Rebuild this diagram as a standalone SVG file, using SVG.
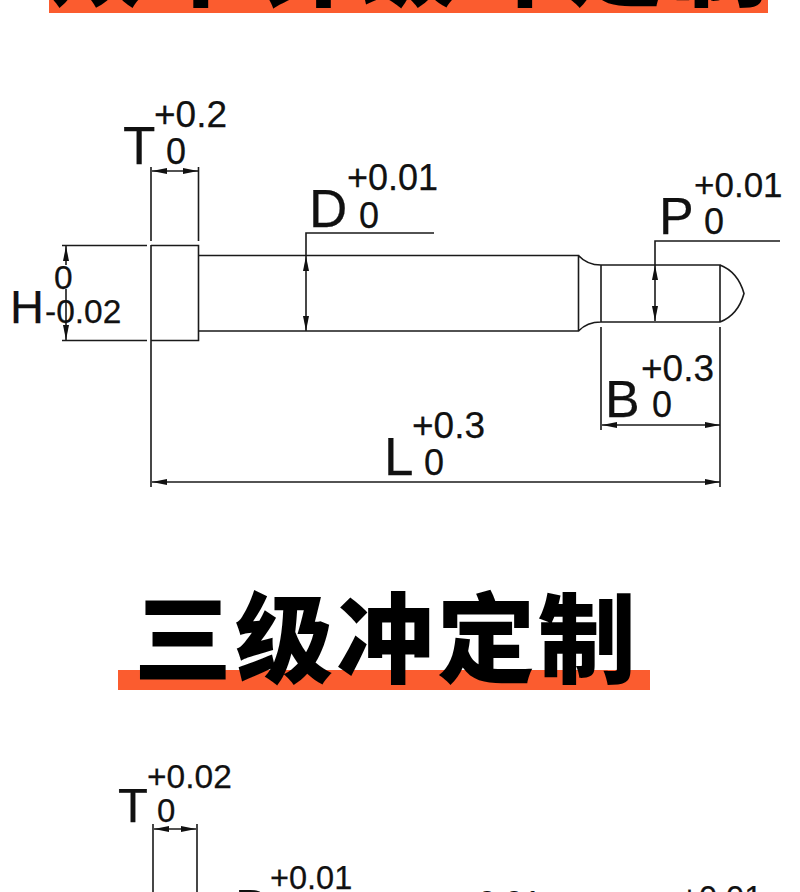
<svg xmlns="http://www.w3.org/2000/svg" width="800" height="892" viewBox="0 0 800 892">
<style>
.l{fill:none;stroke:#1a1a1a;stroke-width:1.6}
.t{font-family:"Liberation Sans",Arial,sans-serif;fill:#111;stroke:#111;stroke-width:.25}
.h{font-family:"Noto Sans CJK SC",sans-serif;font-weight:900;fill:#000;font-size:98px}
.b{fill:#fb5c2f}
</style>
<defs>
<marker id="a" viewBox="0 0 15 6" refX="15" refY="3" markerWidth="15" markerHeight="6" markerUnits="userSpaceOnUse" orient="auto-start-reverse"><path d="M15 3L0 0V6Z" fill="#111"/></marker>
</defs>
<rect width="800" height="892" fill="#fff"/>
<g id="banner-top"><rect class="b" x="49" y="0" width="719" height="13"/><text class="h" x="48" y="-2" textLength="720">双平针级冲定制</text></g>
<g id="banner-mid"><rect class="b" x="118" y="670" width="532" height="20"/><text class="h" x="134" y="675" letter-spacing="3">三级冲定制</text></g>
<g id="pin-1" class="l">
<path d="M151 245.500H198.500V340.500H151"/>
<path d="M198.500 255.500H578.500V331H198.500M578.500 255.500Q587 265 601 265H720V322H601Q587 322 578.500 331M578.500 255.500V331M601 265V322M720 265V322M720 265Q738 272 744 293.500Q738 315 720 322"/>
</g>
<g id="connectors" class="l">
<path d="M151 167V241M151 245V487M198.500 167V241M62 245.500H147M62 340.500H147"/>
<path d="M152 171H198" marker-start="url(#a)" marker-end="url(#a)"/>
<path d="M66 246V265" marker-start="url(#a)"/>
<path d="M66 289V340" marker-end="url(#a)"/>
<path d="M434 233H306V256"/>
<path d="M306 256V331" marker-start="url(#a)" marker-end="url(#a)"/>
<path d="M780 241H655V265"/>
<path d="M655 265V321" marker-start="url(#a)" marker-end="url(#a)"/>
<path d="M601 327V430M720 327V487"/>
<path d="M602 425H720" marker-start="url(#a)" marker-end="url(#a)"/>
<path d="M152 482H720" marker-start="url(#a)" marker-end="url(#a)"/>
<path d="M153 824V892M197 824V892"/>
<path d="M154 829H196" marker-start="url(#a)" marker-end="url(#a)"/>
</g>
<g id="label-t" class="t"><text x="123" y="164" font-size="53">T</text><text x="154" y="127" font-size="37">+0.2</text><text x="166" y="164" font-size="36">0</text></g>
<g id="label-h" class="t"><text x="10" y="323" font-size="47">H</text><text x="45" y="323" font-size="33.500">-0.02</text><text x="54" y="289" font-size="33.500">0</text></g>
<g id="label-d" class="t"><text x="309" y="227" font-size="53">D</text><text x="347" y="190" font-size="36">+0.01</text><text x="359" y="228" font-size="36">0</text></g>
<g id="label-p" class="t"><text x="659" y="234" font-size="52">P</text><text x="694" y="197" font-size="35">+0.01</text><text x="704" y="234" font-size="36">0</text></g>
<g id="label-b" class="t"><text x="605" y="417" font-size="52">B</text><text x="641" y="381" font-size="37">+0.3</text><text x="652" y="417" font-size="36">0</text></g>
<g id="label-l" class="t"><text x="384" y="475" font-size="53">L</text><text x="412" y="438" font-size="37">+0.3</text><text x="424" y="475" font-size="36">0</text></g>
<g id="label-t2" class="t"><text x="118" y="822" font-size="49">T</text><text x="147" y="788" font-size="33.500">+0.02</text><text x="157" y="822" font-size="33">0</text></g>
<g id="label-d2" class="t"><text x="235" y="925" font-size="50">D</text><text x="270" y="889" font-size="32.500">+0.01</text></g>
<g id="label-x" class="t"><text x="459" y="914" font-size="32.500">+0.01</text><text x="680" y="909" font-size="32.500">+0.01</text></g>
</svg>
